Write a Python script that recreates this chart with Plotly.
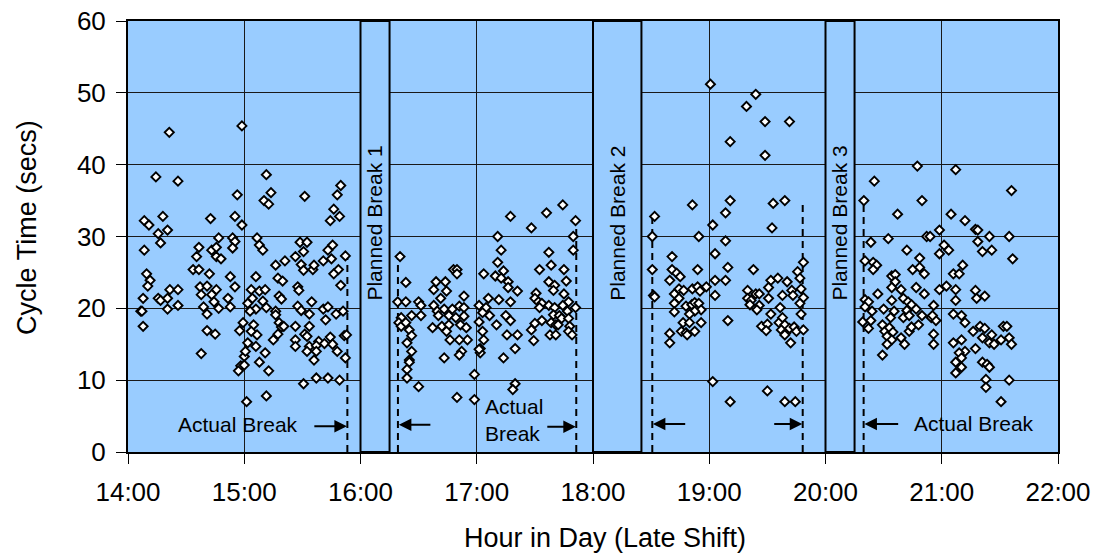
import plotly.graph_objects as go

# ---------------- data (decimal hour of day, cycle time in secs) ----------------
# Block 1: 14:00 - 16:00
block1_hours = [
    14.355, 14.98, 14.24, 14.43, 14.94, 14.14, 14.18, 14.30, 14.71, 14.92, 14.98, 14.26, 14.34, 14.28,
    14.78, 14.90, 14.92, 14.14, 14.61, 14.59, 14.72, 14.76, 14.76, 14.80, 14.90, 14.16, 14.19, 14.17,
    14.56, 14.61, 14.70, 14.88, 14.92, 14.62, 14.68, 14.76, 14.36, 14.43, 14.13, 14.26, 14.28, 14.34,
    14.43, 14.34, 14.11, 14.12, 14.63, 14.72, 14.65, 14.74, 14.78, 14.68, 14.86, 14.88, 14.13, 14.68,
    14.75, 14.63, 14.99, 14.96, 15.00, 14.97, 14.95, 15.02,
    15.19, 15.23, 15.17, 15.21, 15.52, 15.83, 15.80, 15.77, 15.82, 15.74, 15.11, 15.13, 15.16, 15.48,
    15.54, 15.51, 15.44, 15.72, 15.76, 15.75, 15.68, 15.87, 15.27, 15.35, 15.49, 15.51, 15.59, 15.60,
    15.81, 15.77, 15.10, 15.29, 15.33, 15.83, 15.06, 15.13, 15.18, 15.46, 15.47, 15.30, 15.32, 15.07,
    15.03, 15.16, 15.19, 15.10, 15.05, 15.27, 15.27, 15.46, 15.49, 15.56, 15.58, 15.68, 15.72, 15.70,
    15.79, 15.85, 15.08, 15.06, 15.11, 15.30, 15.32, 15.34, 15.44, 15.52, 15.56, 15.54, 15.29, 15.25,
    15.44, 15.44, 15.64, 15.69, 15.74, 15.86, 15.88, 15.56, 15.54, 15.62, 15.62, 15.76, 15.80, 15.60,
    15.87, 15.03, 15.01, 15.10, 15.18, 15.13, 15.21, 15.00, 15.51, 15.62, 15.72, 15.82, 15.19,
]
block1_secs = [
    44.5, 45.4, 38.3, 37.7, 35.8, 32.2, 31.6, 32.8, 32.5, 32.8, 31.6, 30.4, 30.9, 29.1,
    29.8, 29.8, 29.3, 28.1, 28.5, 27.2, 28.1, 28.5, 27.2, 26.9, 28.4, 24.8, 23.9, 23.1,
    25.4, 25.4, 24.8, 24.4, 23.0, 23.0, 23.1, 22.6, 22.6, 22.6, 21.4, 21.4, 21.1, 21.4,
    20.4, 19.9, 19.6, 19.6, 21.9, 21.9, 20.2, 20.9, 20.0, 19.2, 21.4, 20.2, 17.5, 16.9,
    16.4, 13.7, 18.0, 16.9, 13.3, 12.0, 11.3, 7.0,
    38.6, 36.1, 35.0, 34.5, 35.6, 37.1, 35.8, 33.8, 32.8, 32.2, 29.8, 28.8, 28.1, 29.2,
    29.2, 27.9, 27.2, 28.1, 28.8, 26.9, 26.6, 27.3, 26.0, 26.6, 26.1, 25.3, 25.4, 26.0,
    25.4, 24.8, 24.4, 24.2, 23.8, 23.2, 22.6, 22.4, 22.6, 23.0, 22.5, 21.7, 21.3, 21.4,
    20.7, 21.0, 20.1, 19.9, 19.6, 19.6, 19.1, 20.3, 19.7, 19.2, 20.9, 19.9, 20.2, 18.4,
    19.2, 19.6, 17.7, 16.8, 16.3, 18.0, 17.4, 17.5, 17.5, 16.4, 17.5, 16.1, 16.4, 15.6,
    15.6, 14.7, 15.4, 15.1, 16.0, 16.2, 16.3, 14.7, 14.0, 14.8, 14.0, 15.0, 14.0, 12.8,
    13.1, 15.2, 14.0, 14.7, 13.8, 12.5, 11.3, 12.1, 9.5, 10.3, 10.3, 10.0, 7.8,
]

# Block 2: 16:15 - 18:00
block2_hours = [
    16.34, 16.39, 16.32, 16.39, 16.50, 16.52, 16.52, 16.35, 16.33, 16.35, 16.39, 16.44, 16.42, 16.44,
    16.40, 16.44, 16.42, 16.42, 16.40, 16.40, 16.50, 16.65, 16.73, 16.63, 16.74, 16.69, 16.63, 16.66,
    16.72, 16.67, 16.76, 16.80, 16.83, 16.83, 16.79, 16.82, 16.85, 16.89, 16.89, 16.89, 16.62, 16.70,
    16.76, 16.74, 16.77, 16.86, 16.91, 16.92, 16.85, 16.87, 16.85, 16.72, 17.06, 17.02, 17.08, 17.10,
    17.11, 17.05, 17.02, 17.05, 17.06, 17.03, 17.03, 17.02, 16.98, 16.83, 16.98,
    17.29, 17.18, 17.21, 17.47, 17.60, 17.74, 17.85, 17.83, 17.83, 17.18, 17.16, 17.23, 17.21, 17.27,
    17.27, 17.35, 17.19, 17.29, 17.17, 17.25, 17.29, 17.26, 17.35, 17.33, 17.23, 17.33, 17.31, 17.54,
    17.62, 17.64, 17.75, 17.77, 17.62, 17.67, 17.66, 17.51, 17.50, 17.53, 17.56, 17.54, 17.62, 17.67,
    17.75, 17.79, 17.74, 17.78, 17.85, 17.66, 17.71, 17.73, 17.79, 17.64, 17.56, 17.50, 17.47, 17.49,
    17.68, 17.70, 17.80, 17.79, 17.82, 17.63, 17.68,
]
block2_secs = [
    27.2, 23.6, 20.9, 20.9, 20.9, 20.4, 19.0, 18.7, 18.0, 17.5, 18.0, 19.0, 17.0, 16.2,
    15.2, 14.0, 12.8, 12.5, 11.5, 10.3, 9.1, 23.7, 23.7, 22.6, 22.4, 21.4, 20.4, 19.6,
    19.9, 19.0, 19.0, 25.4, 25.4, 24.8, 19.9, 18.7, 20.3, 21.7, 20.1, 18.9, 17.3, 17.5,
    17.7, 16.8, 15.6, 17.7, 17.3, 15.6, 15.6, 14.0, 13.5, 13.1, 24.8, 20.4, 20.1, 21.4,
    19.0, 19.4, 18.1, 16.8, 15.6, 14.4, 13.8, 14.3, 10.8, 7.6, 7.3,
    32.8, 30.0, 28.1, 31.2, 33.3, 34.4, 32.2, 30.0, 28.1, 26.4, 24.5, 25.2, 24.2, 23.7,
    22.9, 22.4, 21.2, 20.9, 17.7, 19.0, 18.3, 16.3, 16.3, 14.4, 13.1, 9.5, 8.7, 25.4,
    27.8, 26.0, 25.4, 23.8, 23.7, 23.2, 22.5, 22.1, 21.4, 20.9, 20.7, 20.1, 20.4, 20.1,
    22.0, 20.9, 20.4, 19.6, 20.1, 19.1, 19.0, 18.6, 18.6, 18.0, 18.3, 17.9, 17.0, 15.5,
    17.7, 17.7, 17.5, 16.8, 16.3, 16.3, 16.3,
]

# Block 3: 18:25 - 20:00
block3_hours = [
    19.01, 19.18, 18.855, 19.18, 19.14, 18.53, 19.03, 18.51, 18.91, 19.14, 18.68, 19.05, 18.51, 18.68,
    18.90, 19.16, 18.72, 18.75, 18.66, 19.14, 19.05, 18.52, 18.53, 18.70, 18.74, 18.78, 18.855, 18.90,
    18.92, 18.975, 19.05, 18.74, 18.70, 18.80, 18.85, 18.875, 18.91, 18.93, 18.875, 18.83, 18.70, 18.775,
    18.83, 18.93, 19.16, 18.76, 18.80, 18.875, 18.66, 18.66, 18.81, 19.03, 19.18,
    19.40, 19.32, 19.48, 19.69, 19.48, 19.55, 19.65, 19.54, 19.81, 19.38, 19.76, 19.78, 19.53, 19.59,
    19.67, 19.51, 19.33, 19.40, 19.43, 19.33, 19.36, 19.35, 19.43, 19.41, 19.51, 19.63, 19.71, 19.72,
    19.79, 19.81, 19.78, 19.53, 19.61, 19.79, 19.45, 19.50, 19.49, 19.60, 19.63, 19.65, 19.62, 19.66,
    19.69, 19.65, 19.73, 19.75, 19.81, 19.70, 19.50, 19.65, 19.74,
]
block3_secs = [
    51.2, 43.2, 34.4, 35.0, 33.3, 32.8, 31.6, 30.0, 30.0, 29.4, 27.2, 27.6, 25.4, 25.4,
    25.4, 25.7, 24.9, 24.4, 23.9, 23.9, 23.9, 21.8, 21.6, 22.0, 22.7, 22.5, 22.7, 23.0,
    22.4, 23.0, 21.8, 21.4, 20.7, 20.3, 20.5, 20.8, 20.7, 19.8, 19.6, 19.2, 19.5, 18.0,
    18.0, 18.0, 18.3, 16.8, 16.6, 16.8, 16.5, 15.2, 16.3, 9.8, 7.0,
    49.8, 48.1, 46.0, 46.0, 41.3, 34.6, 35.0, 31.2, 26.4, 25.4, 25.1, 24.2, 23.9, 24.2,
    23.7, 22.9, 22.5, 22.0, 22.0, 21.4, 21.1, 20.5, 20.4, 19.8, 21.4, 21.8, 22.5, 21.8,
    22.7, 21.5, 20.7, 19.2, 20.1, 19.2, 17.5, 17.8, 16.9, 18.0, 18.7, 17.7, 17.0, 16.6,
    17.2, 16.3, 17.4, 16.8, 17.0, 15.2, 8.5, 7.0, 7.0,
]

# Block 4: 20:15 - 22:00
block4_hours = [
    20.79, 21.12, 20.42, 20.33, 20.83, 20.62, 21.08, 20.98, 20.39, 20.54, 20.87, 20.90, 21.02, 21.06,
    20.98, 20.70, 20.81, 20.34, 20.41, 20.44, 20.41, 20.75, 20.81, 20.85, 21.10, 20.57, 20.60, 20.60,
    20.57, 20.65, 20.78, 20.85, 20.98, 21.04, 21.12, 20.45, 20.34, 20.37, 20.67, 20.57, 20.71, 20.34,
    20.40, 20.50, 20.59, 20.70, 20.74, 20.78, 20.93, 21.12, 20.32, 20.39, 20.37, 20.49, 20.56, 20.67,
    20.72, 20.83, 20.91, 20.95, 20.92, 21.10, 20.51, 20.55, 20.58, 20.53, 20.57, 20.65, 20.68, 20.72,
    20.74, 20.80, 20.93, 20.93, 20.53, 20.49, 21.10, 21.12, 21.12,
    21.60, 21.20, 21.29, 21.31, 21.31, 21.41, 21.58, 21.35, 21.43, 21.61, 21.18, 21.15, 21.29, 21.30,
    21.37, 21.17, 21.20, 21.27, 21.33, 21.37, 21.43, 21.35, 21.41, 21.45, 21.51, 21.53, 21.56, 21.58,
    21.60, 21.17, 21.20, 21.15, 21.17, 21.17, 21.29, 21.35, 21.39, 21.41, 21.38, 21.38, 21.58, 21.51,
]
block4_secs = [
    39.8, 39.3, 37.7, 35.0, 35.0, 33.1, 33.1, 30.9, 29.2, 29.7, 30.0, 30.0, 28.8, 28.1,
    27.6, 28.1, 27.0, 26.6, 26.4, 26.0, 25.4, 25.4, 25.7, 24.8, 24.8, 24.5, 24.7, 23.7,
    22.9, 22.6, 22.9, 22.0, 22.6, 23.1, 22.6, 22.0, 21.2, 20.9, 21.4, 21.1, 20.9, 20.2,
    19.6, 19.9, 19.6, 19.7, 20.5, 19.9, 20.4, 21.1, 18.1, 18.3, 17.2, 17.7, 18.7, 18.7,
    19.0, 19.0, 18.7, 18.3, 19.0, 19.2, 16.8, 17.3, 16.7, 16.1, 15.6, 15.9, 15.0, 16.8,
    17.4, 17.7, 16.4, 15.0, 15.0, 13.5, 15.2, 12.5, 11.0,
    36.4, 32.2, 31.0, 30.9, 29.3, 30.0, 30.0, 27.9, 28.1, 26.9, 26.0, 24.8, 22.5, 21.4,
    21.7, 19.0, 18.0, 16.8, 17.5, 17.2, 16.3, 15.9, 15.2, 15.0, 15.6, 17.5, 17.5, 15.9,
    15.0, 15.6, 14.0, 13.8, 13.1, 11.8, 14.4, 12.5, 12.2, 11.8, 10.1, 9.0, 10.0, 7.0,
]

# Planned breaks (start hour, end hour, label)
planned_start = [16.0, 18.0, 20.0]
planned_end = [16.25, 18.4167, 20.25]
planned_labels = ["Planned Break 1", "Planned Break 2", "Planned Break 3"]

# Actual break markers (hour, top of dashed line in secs)
actual_hours = [15.887, 16.322, 17.856, 18.51, 19.804, 20.328]
actual_tops = [27.3, 27.2, 32.2, 32.8, 35.0, 34.9]

x_tick_vals = [14, 15, 16, 17, 18, 19, 20, 21, 22]
x_tick_text = ["14:00", "15:00", "16:00", "17:00", "18:00", "19:00", "20:00", "21:00", "22:00"]
y_tick_vals = [0, 10, 20, 30, 40, 50, 60]

# ---------------- figure ----------------
FONT = "Liberation Sans, Arial, sans-serif"
BG = "#99CCFF"

all_hours = block1_hours + block2_hours + block3_hours + block4_hours
all_secs = block1_secs + block2_secs + block3_secs + block4_secs

fig = go.Figure()
fig.add_trace(go.Scatter(
    x=all_hours, y=all_secs, mode="markers",
    marker=dict(symbol="diamond", size=7, color="white",
                line=dict(color="black", width=1.9)),
    hoverinfo="x+y", showlegend=False,
))

shapes = []
annotations = []

for s, e, lab in zip(planned_start, planned_end, planned_labels):
    shapes.append(dict(type="rect", xref="x", yref="y", x0=s, x1=e, y0=0, y1=60,
                       fillcolor=BG, line=dict(color="black", width=2), layer="between"))
    annotations.append(dict(x=(s + e) / 2, y=31.8, xref="x", yref="y", text=lab,
                            textangle=-90, showarrow=False,
                            font=dict(family=FONT, size=21, color="black")))

for h, top in zip(actual_hours, actual_tops):
    shapes.append(dict(type="line", xref="x", yref="y", x0=h, x1=h, y0=0, y1=top,
                       line=dict(color="black", width=2, dash="7px,5px"), layer="between"))

# arrows: (head x, tail x, y)
arrow_heads = [15.883, 16.33, 17.852, 18.515, 19.80, 20.335]
arrow_tails = [15.59, 16.614, 17.594, 18.806, 19.546, 20.638]
arrow_ys = [3.6, 3.8, 3.5, 3.9, 3.9, 3.9]
for hx, tx, yy in zip(arrow_heads, arrow_tails, arrow_ys):
    annotations.append(dict(x=hx, y=yy, ax=tx, ay=yy, xref="x", yref="y",
                            axref="x", ayref="y", text="", showarrow=True,
                            arrowhead=2, arrowsize=1.25, arrowwidth=2,
                            arrowcolor="black"))

annotations.append(dict(x=14.95, y=3.8, xref="x", yref="y", text="Actual Break",
                        showarrow=False, font=dict(family=FONT, size=21, color="black")))
annotations.append(dict(x=17.05, y=4.5, xref="x", yref="y", text="Actual<br>Break",
                        showarrow=False, xanchor="left", align="left",
                        font=dict(family=FONT, size=21, color="black")))
annotations.append(dict(x=21.275, y=3.9, xref="x", yref="y", text="Actual Break",
                        showarrow=False, font=dict(family=FONT, size=21, color="black")))

# axis titles
annotations.append(dict(x=0.513, y=-0.2, xref="paper", yref="paper",
                        text="Hour in Day (Late Shift)", showarrow=False,
                        xanchor="center", yanchor="middle",
                        font=dict(family=FONT, size=27, color="black")))
annotations.append(dict(x=-0.1086, y=0.52, xref="paper", yref="paper",
                        text="Cycle Time (secs)", showarrow=False, textangle=-90,
                        xanchor="center", yanchor="middle",
                        font=dict(family=FONT, size=27, color="black")))

fig.update_layout(
    width=1099, height=557,
    margin=dict(l=128, r=41, t=21, b=105, autoexpand=False),
    paper_bgcolor="white", plot_bgcolor=BG,
    font=dict(family=FONT, color="black"),
    shapes=shapes, annotations=annotations,
    xaxis=dict(range=[14, 22], tickvals=x_tick_vals, ticktext=x_tick_text,
               showgrid=True, gridcolor="rgb(25,25,25)", gridwidth=1,
               showline=True, linecolor="black", linewidth=2, mirror=True,
               ticks="outside", ticklen=10, tickcolor="black", tickwidth=1,
               ticklabelstandoff=6, automargin=False,
               tickfont=dict(family=FONT, size=26, color="black"),
               zeroline=False, fixedrange=True),
    yaxis=dict(range=[0, 60], tickvals=y_tick_vals,
               showgrid=True, gridcolor="rgb(25,25,25)", gridwidth=1,
               showline=True, linecolor="black", linewidth=2, mirror=True,
               ticks="outside", ticklen=10, tickcolor="black", tickwidth=1,
               ticklabelstandoff=5, automargin=False,
               tickfont=dict(family=FONT, size=26, color="black"),
               zeroline=False, fixedrange=True),
)

fig.write_html("out.html", config={"displayModeBar": False},
               post_script="document.body.style.margin='0';")
